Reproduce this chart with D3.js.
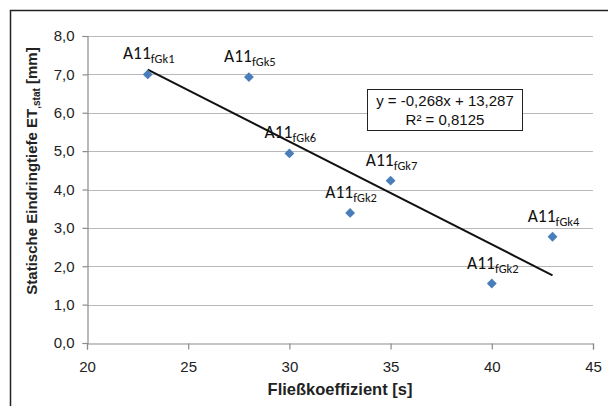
<!DOCTYPE html>
<html>
<head>
<meta charset="utf-8">
<script src="https://cdn.jsdelivr.net/npm/d3@7"></script>
<style>
  html, body { margin: 0; padding: 0; background: #fff; }
  svg { display: block; }
</style>
</head>
<body>
<svg id="chart" width="608" height="406"></svg>
<script>
// Flow coefficient (s) vs. static penetration depth (mm)
const flowCoeff = [23, 28, 30, 33, 35, 40, 43];
const depth = [7.00, 6.93, 4.94, 3.39, 4.23, 1.55, 2.77];
const sampleSub = ["fGk1", "fGk5", "fGk6", "fGk2", "fGk7", "fGk2", "fGk4"];
const xTicks = [20, 25, 30, 35, 40, 45];
const yTicks = [0, 1, 2, 3, 4, 5, 6, 7, 8];
// Linear trend: y = slope * x + intercept
const trendSlope = -0.268;
const trendIntercept = 13.287;
const trendR2 = "0,8125";

const svg = d3.select("#chart");
const m = { left: 87, right: 593, top: 36, bottom: 343 };

const x = d3.scaleLinear().domain([20, 45]).range([m.left, m.right]);
const y = d3.scaleLinear().domain([0, 8]).range([m.bottom, m.top]);
const fmtY = v => d3.format(".1f")(v).replace(".", ",");

// outer frame
svg.append("rect")
  .attr("x", 10.5).attr("y", 10.5)
  .attr("width", 640).attr("height", 440)
  .attr("fill", "none").attr("stroke", "#222").attr("stroke-width", 1.5);

// horizontal gridlines
svg.append("g")
  .selectAll("line")
  .data(yTicks.filter(d => d > 0))
  .join("line")
  .attr("x1", m.left).attr("x2", m.right)
  .attr("y1", d => Math.round(y(d)) + 0.5).attr("y2", d => Math.round(y(d)) + 0.5)
  .attr("stroke", "#b8b8b8").attr("stroke-width", 1.2);

// y axis
const yAxis = svg.append("g")
  .attr("transform", `translate(${m.left + 0.5},0)`)
  .call(d3.axisLeft(y).tickValues(yTicks).tickFormat(fmtY).tickSize(5).tickPadding(8));
// x axis
const xAxis = svg.append("g")
  .attr("transform", `translate(0,${m.bottom + 0.5})`)
  .call(d3.axisBottom(x).tickValues(xTicks).tickSize(6).tickPadding(12));

[yAxis, xAxis].forEach(g => {
  g.select(".domain").attr("stroke", "#8c8c8c").attr("stroke-width", 1.2);
  g.selectAll(".tick line").attr("stroke", "#8c8c8c").attr("stroke-width", 1.2);
  g.selectAll(".tick text")
    .attr("font-family", "Liberation Sans, Arial, sans-serif")
    .attr("font-size", 15).attr("fill", "#222");
});

// trend line across the data range
const xMin = d3.min(flowCoeff), xMax = d3.max(flowCoeff);
svg.append("line")
  .attr("x1", x(xMin)).attr("y1", y(trendSlope * xMin + trendIntercept))
  .attr("x2", x(xMax)).attr("y2", y(trendSlope * xMax + trendIntercept))
  .attr("stroke", "#111").attr("stroke-width", 2);

// data points (diamonds)
const pts = flowCoeff.map((v, i) => ({ x: v, y: depth[i], sub: sampleSub[i] }));
svg.append("g")
  .selectAll("path")
  .data(pts)
  .join("path")
  .attr("transform", d => `translate(${x(d.x)},${y(d.y)})`)
  .attr("d", d3.symbol().type(d3.symbolDiamond2).size(62))
  .attr("fill", "#4a7ebb");

// point labels
const lbl = svg.append("g")
  .selectAll("text")
  .data(pts)
  .join("text")
  .attr("x", d => x(d.x) + 1)
  .attr("y", d => y(d.y) - 15)
  .attr("text-anchor", "middle")
  .attr("font-family", "Carlito, Lato, sans-serif")
  .attr("font-size", 17.5)
  .attr("fill", "#111");
lbl.append("tspan").text("A11");
lbl.append("tspan").attr("font-size", 12.5).attr("dy", 4).text(d => d.sub);

// equation box
const eq = svg.append("g");
eq.append("rect")
  .attr("x", 367.5).attr("y", 89.5).attr("width", 155).attr("height", 41)
  .attr("fill", "#fff").attr("stroke", "#222").attr("stroke-width", 1);
const fmtC = v => String(v).replace(".", ",");
eq.append("text")
  .attr("x", 445).attr("y", 106)
  .attr("text-anchor", "middle")
  .attr("font-family", "Liberation Sans, Arial, sans-serif")
  .attr("font-size", 15).attr("fill", "#111")
  .text(`y = ${fmtC(trendSlope)}x + ${fmtC(trendIntercept)}`);
eq.append("text")
  .attr("x", 445).attr("y", 125)
  .attr("text-anchor", "middle")
  .attr("font-family", "Liberation Sans, Arial, sans-serif")
  .attr("font-size", 15).attr("fill", "#111")
  .text(`R² = ${trendR2}`);

// axis titles
svg.append("text")
  .attr("x", (m.left + m.right) / 2).attr("y", 395)
  .attr("text-anchor", "middle")
  .attr("font-family", "Liberation Sans, Arial, sans-serif")
  .attr("font-size", 16.5).attr("font-weight", "bold").attr("fill", "#222")
  .text("Fließkoeffizient [s]");

const yt = svg.append("text")
  .attr("transform", "translate(37,171) rotate(-90)")
  .attr("text-anchor", "middle")
  .attr("font-family", "Liberation Sans, Arial, sans-serif")
  .attr("font-size", 15).attr("font-weight", "bold").attr("fill", "#222");
yt.append("tspan").text("Statische Eindringtiefe ET");
yt.append("tspan").attr("font-size", 10).attr("dy", 3).text(",stat");
yt.append("tspan").attr("dy", -3).text(" [mm]");
</script>
</body>
</html>
